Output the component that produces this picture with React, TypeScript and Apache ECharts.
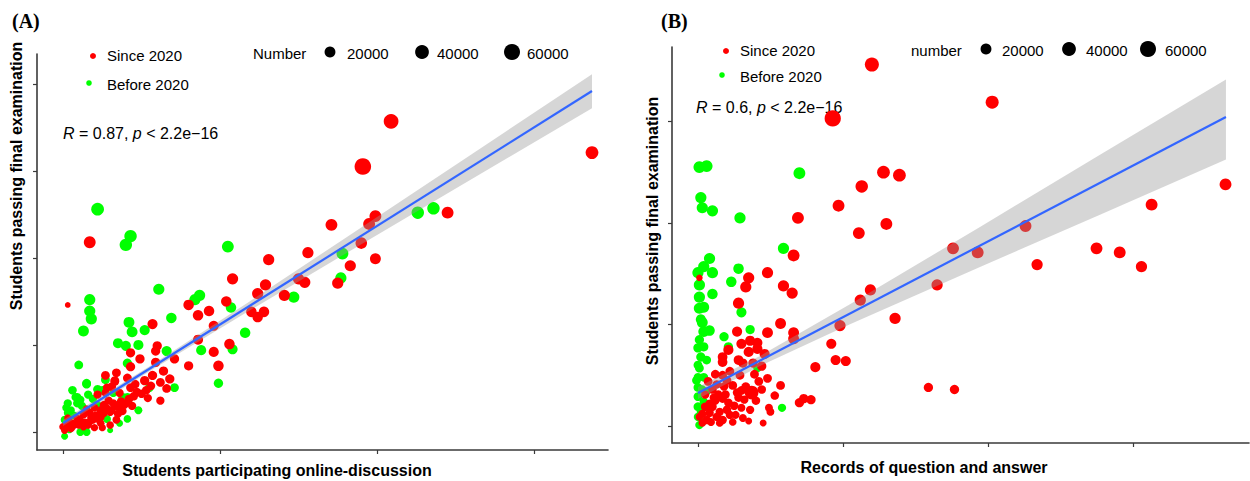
import React, { useEffect, useRef } from "react";
import * as echarts from "echarts";

// Panel A: [participating online-discussion, passing final exam, number]
const aSince: number[][] = [
  [191,305,65000],[209,357,48000],[337,321,32000],[17,218,26000],[199,248,26000],[195,239,26000],[171,238,26000],[245,252,26000],[190,217,24000],[199,199,20000],
  [183,191,22000],[175,171,22000],[156,206,22000],[131,198,22000],[108,176,22000],[129,169,22000],[124,159,22000],[141,157,22000],[150,176,22000],[154,172,22000],
  [80,146,18000],[104,150,18000],[86,134,18000],[93,139,18000],[57,124,16000],[96,122,16000],[120,138,18000],[124,132,18000],[128,138,18000],[106,101,18000],
  [86,106,16000],[96,92,16000],[99,76,18000],[3,146,1600],[60,99,12000],[59,93,12000],[43,91,12000],[49,84,12000],[59,80,12000],[71,84,12000],
  [43,75,12000],[64,70,12000],[57,65,12000],[52,59,12000],[68,61,12000],[80,76,12000],[27,65,10000],[34,68,10000],[33,59,10000],[41,62,10000],
  [43,51,10000],[31,52,10000],[27,45,7000],[54,39,8000],[62,36,8000],[36,28,8000],[36,45,8000],[22,43,8000],[28,51,8000],[33,58,9000],
  [32,33,8000],[26,31,8000],[24,25,8000],[17,22,7000],[13,20,7000],[9,16,6000],[4,12,6000],[0,6,6000],[1,2,5000],[19,14,7000],
  [24,17,7000],[30,23,7000],[40,33,8000],[24,10,6000],[17,12,6000],[6,6,5000],[13,6,5000],[47,46,9000],[10,8,5000],[20,5,5000],
  [30,8,6000],[35,21,8000],[15,26,7000],[3,16,5000],
  [5,4,6000],[8,9,7000],[11,13,7000],[14,11,7000],[18,17,8000],[21,19,8000],[23,14,7000],[26,22,8000],[28,27,8000],[31,25,8000],
  [34,30,8000],[37,35,9000],[39,31,8000],[42,38,9000],[45,41,9000],[38,24,7000],[44,30,8000],[50,44,9000],[53,48,9000],[29,36,8000],
  [20,28,7000],[16,8,6000],[6,10,6000],[2,8,5000],[25,5,5000],[34,14,7000],[56,53,9000],[46,55,9000],[62,57,10000],[66,50,10000]
];
const aBefore: number[][] = [
  [22,256,32000],[43,225,30000],[40,215,30000],[105,213,26000],[226,252,30000],[236,257,30000],[178,205,26000],[177,177,22000],[147,155,22000],[61,164,22000],
  [87,157,22000],[84,152,22000],[107,143,18000],[69,131,18000],[116,114,18000],[88,94,16000],[108,95,16000],[99,56,12000],[17,152,22000],[17,139,22000],
  [18,130,22000],[13,116,20000],[42,126,20000],[44,115,20000],[52,117,16000],[35,102,16000],[40,99,16000],[48,100,16000],[66,93,16000],[41,79,12000],
  [10,77,10000],[15,56,10000],[55,51,10000],[71,51,10000],[22,49,10000],[9,40,9000],[3,33,8000],[48,25,7000],[41,15,6000],[36,10,4000],
  [30,2,2000],[15,0,7000],[11,0,7000],[38,40,9000],[8,40,8000],[11,37,8000],[16,43,8000],[3,22,7000],[1,14,7000],[15,55,10000],
  [22,31,8000],[9,33,8000],[11,12,7000],[41,40,9000],[1,-5,4000],
  [2,28,7000],[5,25,7000],[7,19,7000],[12,30,8000],[19,38,8000],[25,48,9000],[4,3,6000],[28,15,7000],[32,45,8000],[6,48,9000],[27,60,10000]
];
const aFitX = [0, 337];
const aFitY = [10.3, 391.8];
const aBandX = [0, 55.4, 119.1, 182.8, 252.9, 337];
const aBandLow = [6.9, 70.1, 139.8, 208, 282.7, 371.9];
const aBandHigh = [13.8, 75.8, 150.2, 226.4, 310.2, 411];

// Panel B: [records of question and answer, passing final exam, number]
const bSince: number[][] = [
  [93,303,62000],[120,356,42000],[203,319,34000],[128,250,32000],[139,247,32000],[113,236,30000],[69,205,26000],[97,217,26000],[111,190,26000],[130,199,26000],
  [66,168,26000],[176,175,26000],[193,171,26000],[165,139,22000],[136,106,22000],[119,134,22000],[112,124,22000],[98,99,22000],[92,81,16000],[95,65,16000],
  [102,64,16000],[81,58,16000],[159,38,12000],[177,36,12000],[78,26,12000],[73,27,12000],[70,23,12000],[66,92,20000],[66,86,20000],[57,101,20000],
  [48,92,20000],[48,151,22000],[59,138,22000],[65,131,22000],[35,146,22000],[33,137,22000],[28,121,22000],[1,146,3000],[27,93,16000],[36,84,16000],
  [41,82,16000],[30,81,16000],[35,73,16000],[41,76,16000],[21,75,16000],[17,68,14000],[17,63,14000],[28,65,14000],[31,62,12000],[46,71,16000],
  [44,59,12000],[39,51,10000],[48,47,10000],[12,51,10000],[7,44,10000],[17,50,10000],[20,45,10000],[24,40,10000],[30,35,10000],[37,33,40000],
  [10,36,9000],[14,31,9000],[17,27,9000],[21,23,9000],[28,28,9000],[30,18,7000],[49,18,7000],[50,14,7000],[35,5,4000],[45,3,4000],
  [5,19,9000],[8,13,9000],[13,9,9000],[17,6,9000],[6,6,9000],[1,9,6000],[10,19,9000],[20,16,9000],[24,4,6000],[15,3,6000],
  [226,197,26000],[234,159,22000],[275,175,26000],[291,171,26000],[306,157,22000],[313,218,26000],[364,238,26000],[12,25,8000],[26,11,7000],[32,26,8000],
  [5,31,8000],
  [3,12,8000],[8,22,8000],[11,28,9000],[15,14,8000],[19,31,9000],[22,11,8000],[25,20,9000],[27,33,9000],[31,8,7000],[33,39,9000],
  [36,16,8000],[40,25,9000],[42,44,10000],[44,36,9000],[13,41,9000],[9,4,7000],[18,39,9000],[22,54,10000],[29,50,10000],[3,3,6000],
  [38,62,12000],[53,30,9000],[57,40,10000]
];
const bBefore: number[][] = [
  [1,255,26000],[6,256,26000],[70,249,26000],[2,225,22000],[3,215,22000],[10,212,22000],[29,205,22000],[59,175,22000],[8,165,22000],[4,157,22000],
  [0,151,22000],[10,151,22000],[28,155,18000],[23,142,18000],[1,139,22000],[1,127,22000],[10,130,18000],[1,116,22000],[4,117,20000],[3,102,20000],
  [4,93,20000],[8,94,18000],[0,77,12000],[4,78,12000],[2,68,12000],[18,88,12000],[21,78,12000],[36,95,12000],[30,112,16000],[41,57,8000],
  [58,18,8000],[-1,45,10000],[0,38,10000],[0,29,10000],[0,19,10000],[0,9,8000],[1,1,8000],[1,57,10000],[4,48,10000],[3,36,8000],
  [4,24,8000],[6,65,10000],
  [0,48,9000],[1,85,12000],[2,105,16000],[0,60,10000],[2,14,8000],[3,4,8000],[6,34,8000]
];
const bFitX = [0, 364.3];
const bFitY = [32.5, 304.4];
const bBandX = [0, 42.8, 104.9, 194.6, 277.4, 364.3];
const bBandLow = [26.6, 59.2, 100.2, 156.7, 208, 262.5];
const bBandHigh = [38.4, 69, 119.9, 196.1, 267.1, 341.3];

const aXTicks = [0, 100, 200, 300];
const aYTicks = [0, 100, 200, 300, 400];
const bXTicks = [0, 100, 200, 300];
const bYTicks = [0, 100, 200, 300];
const sizeLegend = [20000, 40000, 60000];

const RED = "#FF0000";
const GREEN = "#00FF00";
const SANS = "'Liberation Sans', Arial, sans-serif";
const SERIF = "'Liberation Serif', 'Times New Roman', serif";

const sizeOf = (n: number) => 3.8 + 0.05 * Math.sqrt(n);

function axis(gridIndex: number, min: number, max: number, ticks: number[]) {
  return {
    gridIndex, type: "value", min, max,
    axisLine: { show: true, onZero: false, lineStyle: { color: "#3a3a3a", width: 1.6 } },
    axisTick: { show: true, length: 4, customValues: ticks, lineStyle: { color: "#3a3a3a", width: 1.2 } },
    axisLabel: { show: false },
    splitLine: { show: false },
  };
}

function scatter(data: number[][], color: string, idx: number, z: number) {
  return {
    type: "scatter", xAxisIndex: idx, yAxisIndex: idx, z,
    data, symbolSize: (v: number[]) => sizeOf(v[2]),
    itemStyle: { color, opacity: 1 },
    silent: true,
  };
}

function band(xs: number[], lows: number[], highs: number[], idx: number) {
  return {
    type: "custom", xAxisIndex: idx, yAxisIndex: idx, z: 5, silent: true,
    data: xs.map((x, i) => [x, lows[i], highs[i]]),
    encode: { x: 0, y: [1, 2] },
    renderItem: (params: any, api: any) => {
      if (params.dataIndex !== 0) return null;
      const up = xs.map((x, i) => api.coord([x, highs[i]]));
      const lo = xs.map((x, i) => api.coord([x, lows[i]])).reverse();
      return { type: "polygon", shape: { points: up.concat(lo) }, style: { fill: "rgba(153,153,153,0.4)" } };
    },
  };
}

function fit(xs: number[], ys: number[], idx: number) {
  return {
    type: "line", xAxisIndex: idx, yAxisIndex: idx, z: 6, silent: true,
    data: xs.map((x, i) => [x, ys[i]]), showSymbol: false, symbol: "none",
    lineStyle: { color: "#3366FF", width: 2.2 },
  };
}

function txt(x: number, y: number, text: string, font: string, extra: any = {}) {
  return { type: "text", x, y, ...extra, style: { text, font, fill: "#000", textAlign: "left", textVerticalAlign: "middle", ...(extra.style || {}) } };
}

function legend(ox: number, rows: number[], numLabel: string, numX: number, dotsX: number[], textsX: number[], ny: number, fs: number) {
  const els: any[] = [
    { type: "circle", shape: { cx: ox - 14, cy: rows[0] + 1, r: 3 }, style: { fill: RED } },
    { type: "circle", shape: { cx: ox - 18, cy: rows[1] - 1, r: 2.8 }, style: { fill: GREEN } },
    txt(ox, rows[0], "Since 2020", `${fs}px ${SANS}`),
    txt(ox, rows[1], "Before 2020", `${fs}px ${SANS}`),
    txt(numX, ny, numLabel, `${fs}px ${SANS}`),
  ];
  sizeLegend.forEach((n, i) => {
    els.push({ type: "circle", shape: { cx: dotsX[i], cy: ny - 1, r: sizeOf(n) / 2 }, style: { fill: "#000" } });
    els.push(txt(textsX[i], ny, String(n), `${fs}px ${SANS}`));
  });
  return els;
}

export default function App() {
  const ref = useRef<HTMLDivElement>(null);
  useEffect(() => {
    if (!ref.current) return;
    const chart = echarts.init(ref.current, undefined, { renderer: "svg" });
    const rich = { i: { fontStyle: "italic", fontSize: 16, fontFamily: SANS } };
    chart.setOption({
      animation: false,
      backgroundColor: "#fff",
      grid: [
        { left: 37, top: 54, width: 571, height: 396 },
        { left: 672, top: 47, width: 577, height: 396 },
      ],
      xAxis: [axis(0, -16.6, 347.2, aXTicks), axis(1, -17.9, 380.2, bXTicks)],
      yAxis: [axis(0, -20.7, 434.3, aYTicks), axis(1, -16.7, 373.3, bYTicks)],
      series: [
        scatter(aBefore, GREEN, 0, 2),
        scatter(aSince, RED, 0, 3),
        band(aBandX, aBandLow, aBandHigh, 0),
        fit(aFitX, aFitY, 0),
        scatter(bBefore, GREEN, 1, 2),
        scatter(bSince, RED, 1, 3),
        band(bBandX, bBandLow, bBandHigh, 1),
        fit(bFitX, bFitY, 1),
      ],
      graphic: [
        txt(12, 21, "(A)", `bold 20px ${SERIF}`),
        txt(661, 21, "(B)", `bold 20px ${SERIF}`),
        txt(16, 176, "Students passing final examination", `bold 16px ${SANS}`, { rotation: Math.PI / 2, style: { textAlign: "center" } }),
        txt(652, 231, "Students passing final examination", `bold 16px ${SANS}`, { rotation: Math.PI / 2, style: { textAlign: "center" } }),
        txt(277, 470, "Students participating online-discussion", `bold 16px ${SANS}`, { style: { textAlign: "center" } }),
        txt(924, 467, "Records of question and answer", `bold 16px ${SANS}`, { style: { textAlign: "center" } }),
        { type: "text", x: 63, y: 133, style: { text: "{i|R} = 0.87, {i|p} < 2.2e\u221216", font: `16px ${SANS}`, fill: "#000", textVerticalAlign: "middle", rich } },
        { type: "text", x: 696, y: 107, style: { text: "{i|R} = 0.6, {i|p} < 2.2e\u221216", font: `16px ${SANS}`, fill: "#000", textVerticalAlign: "middle", rich } },
        ...legend(107, [55, 84], "Number", 253, [330, 422, 512], [347, 437, 527], 53, 15),
        ...legend(740, [50, 76], "number", 911, [986, 1069, 1148], [1002, 1086, 1165], 50, 15),
      ],
    });
    return () => chart.dispose();
  }, []);
  return <div ref={ref} style={{ position: "fixed", left: 0, top: 0, width: 1250, height: 481, background: "#fff" }} />;
}
